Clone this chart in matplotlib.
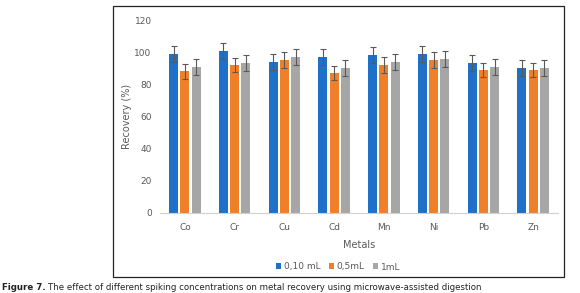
import matplotlib
matplotlib.use("Agg")
import matplotlib.pyplot as plt
from matplotlib.patches import Rectangle
import numpy as np

metals = ["Co", "Cr", "Cu", "Cd", "Mn", "Ni", "Pb", "Zn"]
series_names = ["0,10 mL", "0,5mL", "1mL"]
vals_010 = [99, 101, 94, 97, 98, 99, 93, 90]
vals_05 = [88, 92, 95, 87, 92, 95, 89, 89]
vals_1 = [91, 93, 97, 90, 94, 96, 91, 90]
err_010 = [5, 5, 5, 5, 5, 5, 5, 5]
err_05 = [4.5, 4.5, 5, 4.5, 5, 5, 4.5, 4.5]
err_1 = [5, 5, 5, 5, 5, 5, 5, 5]
yticks = [0, 20, 40, 60, 80, 100, 120]

colors = ["#1f70c8", "#f07f2a", "#a6a6a6"]
W, H = 580, 293
fig = plt.figure(figsize=(W / 100, H / 100), dpi=100)

def fx(px):
    return px / W

def fy(py):
    return 1 - py / H

# outer border box
fig.patches.append(Rectangle((fx(113), fy(277)), fx(564) - fx(113), fy(6) - fy(277),
                             transform=fig.transFigure, fill=False, edgecolor="#222222", lw=0.9))

ax = fig.add_axes([fx(160), fy(213), fx(558) - fx(160), fy(20) - fy(213)])
x = np.arange(len(metals))
bw = 0.18
off = 0.225
all_vals = [vals_010, vals_05, vals_1]
all_err = [err_010, err_05, err_1]
for i, (v, e, c, n) in enumerate(zip(all_vals, all_err, colors, series_names)):
    ax.bar(x + (i - 1) * off, v, width=bw, color=c, label=n, zorder=2)
    ax.errorbar(x + (i - 1) * off, v, yerr=e, fmt="none", ecolor="#595959",
                elinewidth=0.8, capsize=2, capthick=0.8, zorder=3)

ax.set_xlim(-0.5, len(metals) - 0.5)
ax.set_ylim(0, 120)
ax.set_yticks(yticks)
ax.set_xticks(x)
ax.set_xticklabels(metals)
for s in ["top", "right", "left"]:
    ax.spines[s].set_visible(False)
ax.spines["bottom"].set_color("#d0d0d0")
ax.spines["bottom"].set_linewidth(0.8)
ax.tick_params(axis="both", length=0, labelsize=6.5, colors="#595959", pad=6)
ax.tick_params(axis="x", pad=7)
ax.set_ylabel("Recovery (%)", fontsize=7, color="#595959", labelpad=2)
ax.set_xlabel("Metals", fontsize=7, color="#595959", labelpad=6)

leg = fig.legend(loc="center", bbox_to_anchor=(fx(338), fy(267)), ncol=3, frameon=False,
                 fontsize=6.5, handlelength=0.6, handleheight=0.6, handletextpad=0.3,
                 columnspacing=0.9)
for t in leg.get_texts():
    t.set_color("#595959")

cap_font = ["Liberation Sans Narrow", "DejaVu Sans"]
t1 = fig.text(fx(2), fy(288), "Figure 7.", fontsize=6.2, fontweight="bold",
              family=cap_font, va="center", ha="left", color="#222222")
fig.canvas.draw()
bb = t1.get_window_extent()
fig.text(bb.x1 / W + fx(2.5), fy(288),
         "The effect of different spiking concentrations on metal recovery using microwave-assisted digestion",
         fontsize=6.2, family=cap_font, va="center", ha="left", color="#222222")

fig.savefig("out.png", dpi=100)
